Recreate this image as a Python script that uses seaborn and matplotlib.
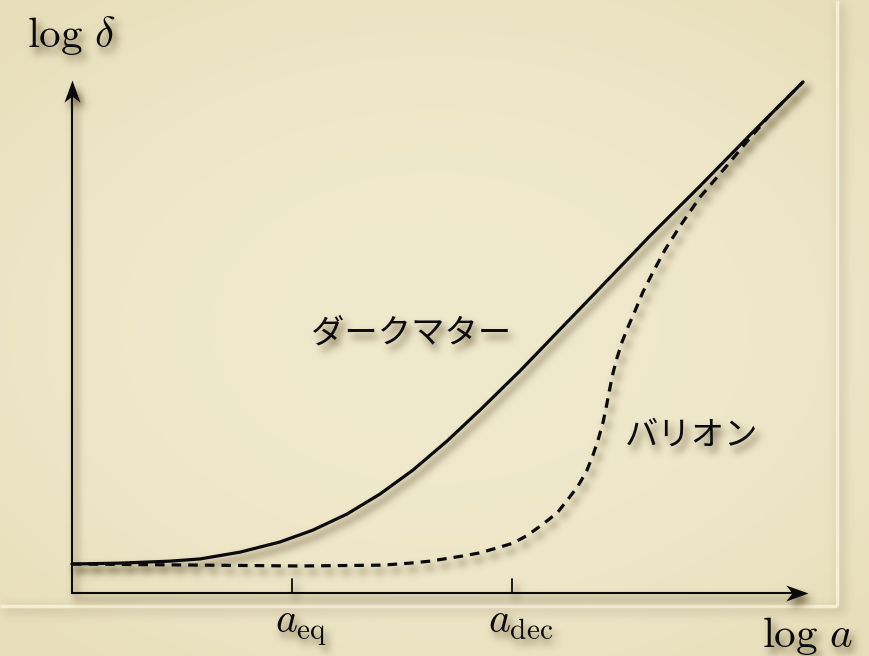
import numpy as np
import pandas as pd
import matplotlib
matplotlib.use("Agg")
import matplotlib.pyplot as plt
from matplotlib.path import Path
import seaborn as sns

# Growth of density perturbations: x = log a, y = log delta
# (axis units chosen so that a_eq sits at 1 and a_dec at 2)
dm_x = [0.0, 0.218, 0.445, 0.582, 0.764, 0.945, 1.095, 1.25, 1.4, 1.55,
        1.705, 1.855, 2.036, 2.218, 2.341, 2.627, 2.855, 3.082, 3.323]
dm_y = [0.132, 0.136, 0.145, 0.155, 0.186, 0.232, 0.286, 0.359, 0.45, 0.559,
        0.691, 0.832, 1.009, 1.198, 1.325, 1.623, 1.85, 2.082, 2.323]

baryon_x = [0.0, 0.582, 1.036, 1.414, 1.536, 1.627, 1.773, 1.85, 1.932, 2.005,
            2.073, 2.141, 2.205, 2.255, 2.3, 2.341, 2.368, 2.391, 2.414, 2.432,
            2.445, 2.459, 2.477, 2.5, 2.527, 2.559, 2.595, 2.641, 2.695,
            2.764, 2.855, 2.968, 3.059, 3.173, 3.323]
baryon_y = [0.132, 0.127, 0.123, 0.127, 0.136, 0.145, 0.168, 0.182, 0.205, 0.227,
            0.264, 0.314, 0.364, 0.427, 0.486, 0.559, 0.627, 0.695, 0.777, 0.864,
            0.932, 1.0, 1.068, 1.141, 1.209, 1.282, 1.368, 1.459, 1.559,
            1.668, 1.8, 1.932, 2.041, 2.173, 2.323]

tick_pos = [1.0, 2.0]
tick_labels = [r"$a_{\mathrm{eq}}$", r"$a_{\mathrm{dec}}$"]
x_label = r"$\log\,a$"
y_label = r"$\log\,\delta$"
dm_label = "ダークマター"
baryon_label = "バリオン"

# ends of the two axis arrows
x_tip = 3.345
y_tip = 2.332

sns.set_theme(style="white")
plt.rcParams["mathtext.fontset"] = "cm"
plt.rcParams["font.family"] = ["Noto Sans CJK JP", "DejaVu Sans"]

BG_CENTER = np.array([0.940, 0.915, 0.800])
BG_EDGE = np.array([0.905, 0.875, 0.730])
INK = "#0a0a0a"
JP = ["Noto Sans CJK JP", "DejaVu Sans"]


def _blur(a, sigma):
    h, w = a.shape
    fy = np.fft.fftfreq(h)[:, None]
    fx = np.fft.fftfreq(w)[None, :]
    g = np.exp(-2.0 * (np.pi * sigma) ** 2 * (fx ** 2 + fy ** 2))
    return np.real(np.fft.ifft2(np.fft.fft2(a) * g))


class SoftShadow:
    """Agg filter: blurred, offset drop shadow of whatever the artist draws."""

    def __init__(self, dx=4, dy=6, sigma=4.0, strength=0.9,
                 color=(0.36, 0.31, 0.18)):
        self.dx, self.dy, self.sigma = dx, dy, sigma
        self.strength, self.color = strength, color

    def __call__(self, im, dpi):
        pad = int(3 * self.sigma + max(abs(self.dx), abs(self.dy))) + 2
        a = np.pad(im[:, :, 3], pad)
        a = _blur(a, self.sigma) * self.strength
        a = np.roll(np.roll(a, self.dy, axis=0), self.dx, axis=1)
        out = np.empty(a.shape + (4,))
        out[..., :3] = self.color
        out[..., 3] = np.clip(a, 0.0, 1.0)
        return out, -pad, -pad


def head_marker(angle_deg):
    """Concave (stealth-like) arrow head with its point at the origin."""
    verts = np.array([(0.0, 0.0), (-1.0, 0.36), (-0.72, 0.0), (-1.0, -0.36), (0.0, 0.0)])
    t = np.deg2rad(angle_deg)
    rot = np.array([[np.cos(t), -np.sin(t)], [np.sin(t), np.cos(t)]])
    verts = verts @ rot.T
    codes = [Path.MOVETO, Path.LINETO, Path.LINETO, Path.LINETO, Path.CLOSEPOLY]
    return Path(verts, codes)


fig = plt.figure(figsize=(8.7, 6.56), dpi=100)
ax = fig.add_axes([0, 0, 1, 1])
xlim = (-0.327, 3.627)
ylim = (-0.286, 2.695)

# parchment background with a gentle darkening towards the edges
yy, xx = np.mgrid[-1:1:200j, -1:1:260j]
r = np.clip((0.85 * xx ** 2 + yy ** 2) / 1.6, 0, 1) ** 1.3
bg = BG_CENTER[None, None, :] + (BG_EDGE - BG_CENTER)[None, None, :] * r[..., None]
ax.imshow(bg, extent=(*xlim, *ylim), aspect="auto", zorder=0,
          interpolation="bicubic")

# raised panel edge
for kw in (dict(color="#000000", lw=4, alpha=1.0,
                agg_filter=SoftShadow(dx=4, dy=4, sigma=5, strength=0.25)),
           dict(color="#f6f1da", lw=2.5, alpha=0.9)):
    ax.plot([3.477, 3.477], [-0.059, ylim[1]], zorder=1, solid_capstyle="butt", **kw)
    ax.plot([xlim[0], 3.477], [-0.059, -0.059], zorder=1, solid_capstyle="butt", **kw)

df_dm = pd.DataFrame({"x": dm_x, "y": dm_y})
df_b = pd.DataFrame({"x": baryon_x, "y": baryon_y})
dash = (0, (3.0, 2.2))

for shadow in (True, False):
    extra = dict(agg_filter=SoftShadow(), zorder=2) if shadow else dict(zorder=4)
    sns.lineplot(data=df_dm, x="x", y="y", ax=ax, color=INK, lw=2.3,
                 sort=False, estimator=None, legend=False, **extra)
    sns.lineplot(data=df_b, x="x", y="y", ax=ax, color=INK, lw=2.3,
                 sort=False, estimator=None, legend=False, linestyle=dash,
                 **extra)

    # axes drawn as arrows from the origin
    ax.plot([0.0, 0.0, x_tip - 0.06], [y_tip - 0.06, 0.0, 0.0], color=INK,
            lw=1.5, solid_joinstyle="miter", **extra)
    ax.plot([x_tip], [0.0], ls="none", marker=head_marker(0), ms=32,
            color=INK, mew=0, **extra)
    ax.plot([0.0], [y_tip], ls="none", marker=head_marker(90), ms=32,
            color=INK, mew=0, **extra)

    for tx in tick_pos:
        ax.plot([tx, tx], [0.0, 0.064], color=INK, lw=1.3, **extra)

    tkw = dict(color=INK, **extra)
    for tx, lab in zip(tick_pos, tick_labels):
        ax.text(tx + 0.04, -0.182, lab, ha="center", va="baseline",
                fontsize=30, **tkw)
    ax.text(3.345, -0.245, x_label, ha="center", va="baseline",
            fontsize=31, **tkw)
    ax.text(0.0, 2.48, y_label, ha="center", va="baseline",
            fontsize=31, **tkw)
    ax.text(1.541, 1.18, dm_label, ha="center", va="center", fontsize=24,
            family=JP, **tkw)
    ax.text(2.818, 0.718, baryon_label, ha="center", va="center", fontsize=24,
            family=JP, **tkw)

ax.set_xlim(*xlim)
ax.set_ylim(*ylim)
ax.axis("off")
fig.savefig("out.png", dpi=100)
